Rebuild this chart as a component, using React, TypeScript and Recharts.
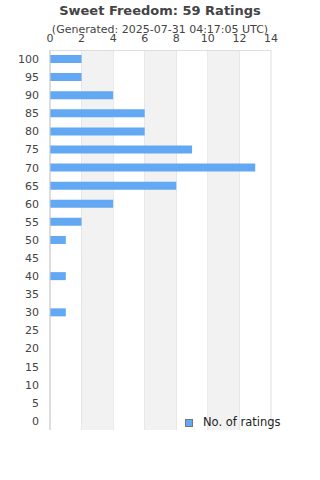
import React from "react";
import { BarChart, Bar, XAxis, YAxis, CartesianGrid, ReferenceArea } from "recharts";

const categories = ["100","95","90","85","80","75","70","65","60","55","50","45","40","35","30","25","20","15","10","5","0"];
const ratings = [2,2,4,6,6,9,13,8,4,2,1,0,1,0,1,0,0,0,0,0,0];
const xTicks = [0,2,4,6,8,10,12,14];
const bands: [number, number][] = [[2,4],[6,8],[10,12]];
const title = "Sweet Freedom: 59 Ratings";
const subtitle = "(Generated: 2025-07-31 04:17:05 UTC)";
const seriesName = "No. of ratings";

const data = categories.map((c, i) => ({ label: c, value: ratings[i] }));
const FONT = "'DejaVu Sans', sans-serif";
const BAR = "#62a8f2";

export default function App() {
  return (
    <div style={{ position: "absolute", left: 0, top: 0, width: 320, height: 480, background: "#fff" }}>
      <div style={{ position: "absolute", left: 0, top: 3, width: 320, textAlign: "center", fontFamily: FONT, fontWeight: "bold", fontSize: 13, color: "#444" }}>{title}</div>
      <div style={{ position: "absolute", left: 0, top: 23, width: 320, textAlign: "center", fontFamily: FONT, fontSize: 11, color: "#444" }}>{subtitle}</div>
      <BarChart width={320} height={480} data={data} layout="vertical" margin={{ top: 30, right: 49, bottom: 50, left: 0 }} barCategoryGap={5}>
        {bands.map(([a, b]) => (
          <ReferenceArea key={a} x1={a} x2={b} fill="#f2f2f2" fillOpacity={1} stroke="none" ifOverflow="visible" />
        ))}
        <CartesianGrid horizontal={false} stroke="#dddddd" strokeDasharray="" />
        <XAxis type="number" orientation="top" domain={[0, 14]} ticks={xTicks} height={20} axisLine={false} tickLine={false} interval={0}
          tick={{ fontFamily: FONT, fontSize: 11, fill: "#444" }} />
        <YAxis type="category" dataKey="label" width={50} axisLine={{ stroke: "#ccc" }} tickLine={false} interval={0} tickMargin={5}
          tick={{ fontFamily: FONT, fontSize: 11, fill: "#444" }} />
        <Bar dataKey="value" name={seriesName} fill={BAR} barSize={8} isAnimationActive={false} />
      </BarChart>
      <div style={{ position: "absolute", left: 50, top: 50, width: 221, height: 1, background: "#ddd" }} />
      <div style={{ position: "absolute", left: 185, top: 415, display: "flex", alignItems: "center", fontFamily: FONT, fontSize: 11.5, color: "#222", lineHeight: "15px" }}>
        <span style={{ display: "inline-block", width: 6, height: 6, background: BAR, border: "1px solid #777", marginRight: 10 }} />
        <span>{seriesName}</span>
      </div>
    </div>
  );
}
